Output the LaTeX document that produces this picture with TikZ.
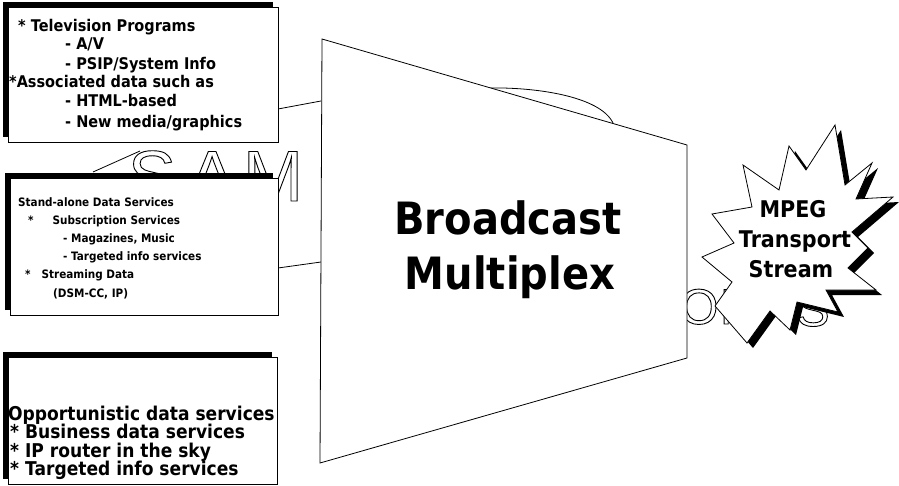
\documentclass[tikz,border=0pt]{standalone}
\usepackage{fontspec}
\newfontfamily\boxfont{DejaVu Sans}[FakeStretch=0.9]
\newfontfamily\ghostfont{Liberation Sans}
\usetikzlibrary{calc}
% hollow letters of the older artwork
\newcommand{\hollow}[1]{\special{pdf:code q 1 Tr 0.9 w}#1\special{pdf:code Q}}
% the burst round the stream label
\newcommand{\burst}[1]{\path[#1] (835,125) -- (806,170) -- (789,146) -- (779,190) -- (743,165) -- (752,207) -- (712,214) -- (734,243) -- (702,257) -- (732,282) -- (715,306) -- (747,343) -- (770,311) -- (790,330) -- (797,302) -- (838,312) -- (826,290) -- (876,290) -- (848,268) -- (868,248) -- (852,232) -- (893,197) -- (856,199) -- (872,163) -- (845,185) -- cycle;}

\begin{document}
\begin{tikzpicture}[x=1pt,y=-1pt,
	thinline/.style={draw=black,line width=0.8pt},
	boxshade/.style={fill=black},
	boxface/.style={draw=black,fill=white,line width=0.8pt},
	ghost/.style={anchor=base,inner sep=0pt},
	tvline/.style={anchor=base west,inner sep=0pt,font=\boxfont\bfseries\fontsize{16.1}{19}\selectfont},
	dataline/.style={anchor=base west,inner sep=0pt,font=\boxfont\bfseries\fontsize{11.6}{18}\selectfont},
	oppline/.style={anchor=base west,inner sep=0pt,font=\boxfont\bfseries\fontsize{19}{19}\selectfont},
	muxline/.style={anchor=base,inner sep=0pt,font=\boxfont\bfseries\fontsize{44.5}{55}\selectfont},
	tsline/.style={anchor=base,inner sep=0pt,font=\boxfont\bfseries\fontsize{23}{30}\selectfont}]
			\useasboundingbox (0,0) rectangle (899,486);
			%%%%% START %%%%%
			% old artwork showing through
			\node[ghost,font=\ghostfont\fontsize{72}{72}\selectfont] (gS) at (152,201) {\hollow{S}};
			\node[ghost,font=\ghostfont\fontsize{72}{72}\selectfont] (gA) at (212,201) {\hollow{A}};
			\node[ghost,font=\ghostfont\fontsize{72}{72}\selectfont] (gM) at (273,201) {\hollow{M}};
			\node[ghost,font=\ghostfont\fontsize{50}{50}\selectfont] (gO) at (699,324) {\hollow{O}};
			\node[ghost,font=\ghostfont\fontsize{50}{50}\selectfont] (gN) at (738,324) {\hollow{N}};
			\node[ghost,font=\ghostfont\fontsize{50}{50}\selectfont] (gS2) at (813,326) {\hollow{S}};
			\draw[thinline] (93,172) -- (140,151);
			\draw[thinline] (278,109) -- (321,101);
			\draw[thinline] (278,268) -- (321,262);
			\draw[thinline] (488,88) .. controls (535,87) and (600,96) .. (613,123);
			
			% service boxes
			\fill[boxshade] (3,2) rectangle (273,137);
			\draw[boxface] (8,7) rectangle (278,142);
			\fill[boxshade] (5,173) rectangle (273,310);
			\draw[boxface] (10,178) rectangle (278,315);
			\fill[boxshade] (3,352) rectangle (272,479);
			\draw[boxface] (8,357) rectangle (277,484);
			
			\node[tvline] (tv1) at (18,32) {* Television Programs};
			\node[tvline] (tv2) at (65,50) {- A/V};
			\node[tvline] (tv3) at (65,70) {- PSIP/System Info};
			\node[tvline] (tv4) at (9,88) {*Associated data such as};
			\node[tvline] (tv5) at (65,107) {- HTML-based};
			\node[tvline] (tv6) at (65,128) {- New media/graphics};
			
			\node[dataline] (sd1) at (18,207) {Stand-alone Data Services};
			\node[dataline] (sd2) at (28,225) {*\hspace{19pt}Subscription Services};
			\node[dataline] (sd3) at (63,243) {- Magazines, Music};
			\node[dataline] (sd4) at (63,261) {- Targeted info services};
			\node[dataline] (sd5) at (25,278) {*\hspace{11pt}Streaming Data};
			\node[dataline] (sd6) at (53,297) {(DSM-CC, IP)};
			
			\node[oppline] (op1) at (8,420) {Opportunistic data services};
			\node[oppline] (op2) at (10,438) {* Business data services};
			\node[oppline] (op3) at (10,457) {* IP router in the sky};
			\node[oppline] (op4) at (10,475) {* Targeted info services};
			
			% multiplexer
			\draw[boxface] (322,39) -- (687,145) -- (687,358) -- (320,463) -- cycle;
			\node[muxline] (mux1) at (508,235) {Broadcast};
			\node[muxline] (mux2) at (510,290) {Multiplex};
			
			% output stream
			\burst{fill=black,shift={(6,5)}}
			\burst{draw=black,fill=white,line width=0.8pt}
			\node[tsline] (ts1) at (793,218) {MPEG};
			\node[tsline] (ts2) at (795,248) {Transport};
			\node[tsline] (ts3) at (791,277) {Stream};
			%%%%% END %%%%%
		\end{tikzpicture}
\end{document}
